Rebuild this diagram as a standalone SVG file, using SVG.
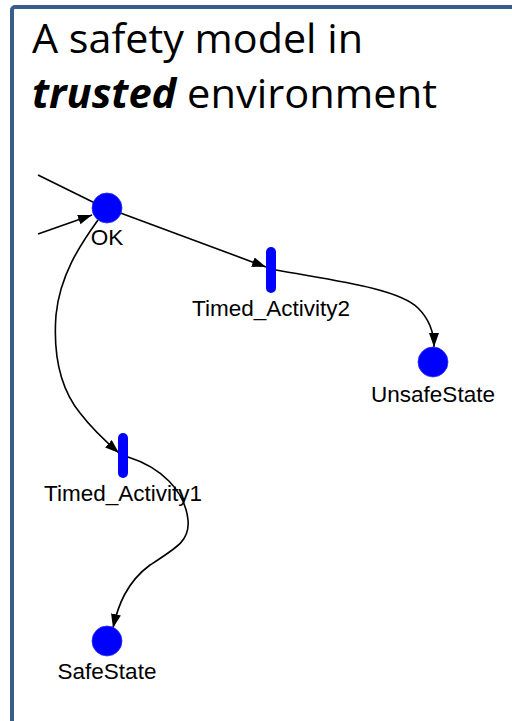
<svg xmlns="http://www.w3.org/2000/svg" width="512" height="721" viewBox="0 0 512 721">
<defs>
<marker id="arr" markerUnits="userSpaceOnUse" markerWidth="16" markerHeight="12" refX="14" refY="5" orient="auto">
<path d="M0,0 L14,5 L0,10 Z" fill="#000"/>
</marker>
<style>
.title{font-family:"Open Sans","Noto Sans",sans-serif;font-size:41px;fill:#000}
.lbl{font-family:"Liberation Sans",Arial,sans-serif;font-size:22.5px;fill:#000;text-anchor:middle}
.edge{fill:none;stroke:#000;stroke-width:1.6}
.place{fill:#0000FF;stroke:#3030FF;stroke-width:0.8}
.bar{stroke:#0000FF;stroke-width:10;stroke-linecap:round}
</style>
</defs>
<rect x="0" y="0" width="512" height="721" fill="#fff"/>
<rect x="12" y="7" width="530" height="740" rx="3" fill="none" stroke="#385D8A" stroke-width="4"/>
<g id="title">
<text class="title" x="32" y="53" textLength="331" lengthAdjust="spacingAndGlyphs">A safety model in</text>
<text class="title" x="32" y="108" textLength="405" lengthAdjust="spacingAndGlyphs"><tspan font-weight="bold" font-style="italic">trusted</tspan> environment</text>
</g>
<g id="connectors">
<path class="edge" d="M38,175 L107,209"/>
<path class="edge" d="M38,234 L92,215" marker-end="url(#arr)"/>
<path class="edge" d="M107,208 L266,267" marker-end="url(#arr)"/>
<path class="edge" d="M276,270 C330,280 398,288 418,308 C431,321 434,334 434,347" marker-end="url(#arr)"/>
<path class="edge" d="M98,220 C80,245 60,275 56,315 C53,355 60,388 80,413 C90,426 104,440 119,453" marker-end="url(#arr)"/>
<path class="edge" d="M128,457 C160,467 185,490 188,520 C190,540 178,547 150,565 C127,582 118,605 113,628" marker-end="url(#arr)"/>
</g>
<g id="OK">
<circle class="place" cx="107" cy="208" r="15"/>
<text class="lbl" x="107" y="245">OK</text>
</g>
<g id="Timed_Activity2">
<line class="bar" x1="271" y1="252" x2="271" y2="288"/>
<text class="lbl" x="271" y="316">Timed_Activity2</text>
</g>
<g id="UnsafeState">
<circle class="place" cx="433" cy="362" r="15"/>
<text class="lbl" x="433" y="402">UnsafeState</text>
</g>
<g id="Timed_Activity1">
<line class="bar" x1="123" y1="438" x2="123" y2="473"/>
<text class="lbl" x="123" y="501">Timed_Activity1</text>
</g>
<g id="SafeState">
<circle class="place" cx="107" cy="641" r="15"/>
<text class="lbl" x="107" y="679">SafeState</text>
</g>
</svg>
